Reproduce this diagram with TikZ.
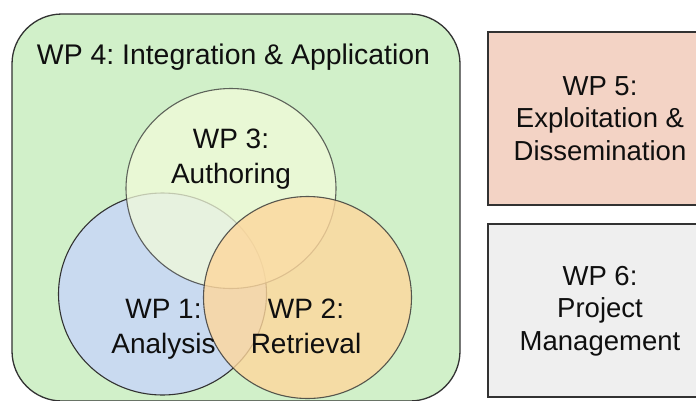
\documentclass[tikz,border=0pt]{standalone}
\usepackage{fontspec}
\setmainfont{Liberation Sans}
\frenchspacing
\definecolor{wpgreen}{RGB}{209,240,201}
\definecolor{wpblue}{RGB}{201,218,240}
\definecolor{wpyellow}{RGB}{242,251,218}
\definecolor{wporange}{RGB}{254,215,156}
\definecolor{wppink}{RGB}{243,211,197}
\definecolor{wpgrey}{RGB}{239,239,239}
\definecolor{wpline}{RGB}{50,50,50}
\definecolor{wptext}{RGB}{15,15,15}
% two or three centred lines, anchored at the baseline of the first one
\newcommand{\wptwo}[2]{\begin{tabular}[t]{@{}c@{}}#1\\#2\end{tabular}}
\newcommand{\wpthree}[3]{\begin{tabular}[t]{@{}c@{}}#1\\#2\\#3\end{tabular}}
\tikzset{
  wpframe/.style={draw=wpline, line width=1.3pt},
  venn/.style={draw=wpline, line width=1.1pt},
  circlabel/.style={anchor=base, inner sep=0pt, text=wptext,
    font=\fontsize{28}{35}\selectfont},
  titlelabel/.style={anchor=base, inner sep=0pt, text=wptext,
    font=\fontsize{28.4}{35}\selectfont},
  boxlabel/.style={anchor=base, inner sep=0pt, text=wptext,
    font=\fontsize{27.5}{32.5}\selectfont},
}
\begin{document}
\begin{tikzpicture}[x=1pt, y=-1pt]
\useasboundingbox (0,0) rectangle (696,400);
\fill[white] (0,0) rectangle (696,400);
\clip (0,0) rectangle (696,400);

% WP 4 frame
\draw[wpframe, fill=wpgreen, rounded corners=50pt] (12,14) rectangle (460,401);

% overlapping work packages
\draw[venn, fill=wpblue] (162.5,294) ellipse [x radius=104, y radius=101];
\draw[venn, fill=wpyellow, opacity=0.75] (231,188.5) ellipse [x radius=105, y radius=100];
\draw[venn, fill=wporange, opacity=0.8] (307.5,297.5) ellipse [x radius=104, y radius=101];

% side boxes
\draw[wpframe, fill=wppink] (488,32) rectangle (712,205);
\draw[wpframe, fill=wpgrey] (488,224) rectangle (712,397);

% labels
\node[titlelabel] (wp4) at (233.5,64) {WP 4: Integration \& Application};
\node[circlabel] (wp3) at (231,148) {\wptwo{WP 3:}{Authoring}};
\node[circlabel] (wp1) at (163.5,318) {\wptwo{WP 1:}{Analysis}};
\node[circlabel] (wp2) at (306,318) {\wptwo{WP 2:}{Retrieval}};
\node[boxlabel] (wp5) at (600,95) {\wpthree{WP 5:}{Exploitation \&}{Dissemination}};
\node[boxlabel] (wp6) at (600,285) {\wpthree{WP 6:}{Project}{Management}};
\end{tikzpicture}
\end{document}
